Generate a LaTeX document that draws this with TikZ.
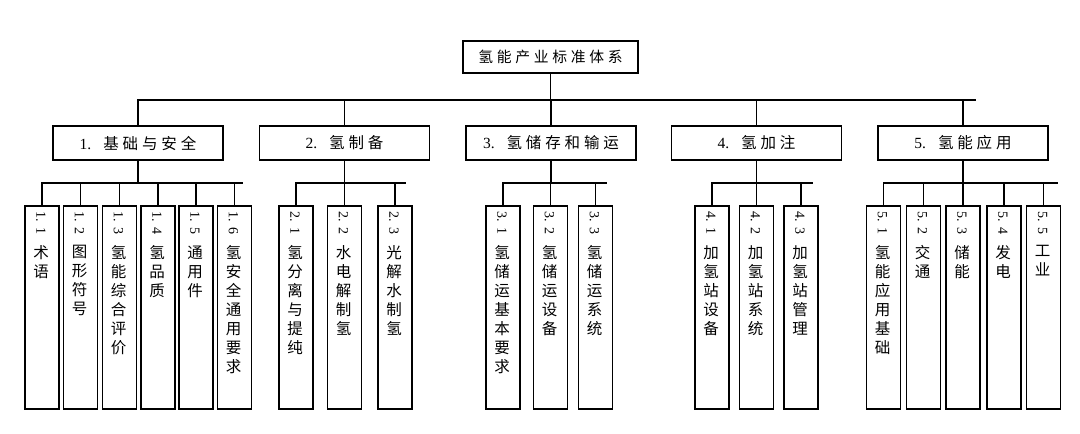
\documentclass[tikz,border=0pt]{standalone}
\usepackage{fontspec}
\setmainfont{Liberation Serif}
\newfontfamily\cjk{Noto Sans CJK SC}
\newfontfamily\cjks[LetterSpace=25]{Noto Sans CJK SC}
\newcommand\leaf[4]{%
  \node[leafbox] (#1) at (#2,307.5) {};
  \node[numtxt] (#1n) at ([xshift=-1pt,yshift=-6pt]#1.north) {#3};
  \node[chartxt] (#1c) at ([xshift=-1pt,yshift=-40pt]#1.north) {#4};
}
\begin{document}
\begin{tikzpicture}[x=1pt,y=-1pt,
  rootbox/.style={draw, line width=1.4pt, minimum width=175pt, minimum height=32pt, inner sep=0pt, font=\cjks\fontsize{14.8}{15}\selectfont},
  catbox/.style={draw, line width=1.4pt, minimum width=170pt, minimum height=34pt, inner sep=0pt, font=\cjks\fontsize{15.5}{15}\selectfont},
  leafbox/.style={draw, line width=1.4pt, minimum width=34pt, minimum height=203pt, inner sep=0pt},
  conn/.style={line width=1.2pt},
  numtxt/.style={rotate=-90, anchor=west, inner sep=0pt, font=\fontsize{14}{14}\selectfont},
  chartxt/.style={anchor=north, align=center, inner sep=0pt, font=\cjk\fontsize{15.5}{19}\selectfont}
]
\useasboundingbox (0,0) rectangle (1080,434);
\fill[white] (0,0) rectangle (1080,434);

\node[rootbox] (root) at (550.5,57) {氢能产业标准体系};

\node[catbox] (c1) at (138,143) {\rmfamily 1.\hspace{12pt}\cjks 基础与安全};
\node[catbox] (c2) at (344.5,143) {\rmfamily 2.\hspace{12pt}\cjks 氢制备};
\node[catbox] (c3) at (551,143) {\rmfamily 3.\hspace{12pt}\cjks 氢储存和输运};
\node[catbox] (c4) at (756.5,143) {\rmfamily 4.\hspace{12pt}\cjks 氢加注};
\node[catbox] (c5) at (963,143) {\rmfamily 5.\hspace{12pt}\cjks 氢能应用};

\coordinate (bus0) at (976,100);
\draw[conn] (c1.north) |- (bus0);
\draw[conn] (root.south) -- (root.south |- bus0);
\draw[conn] (c2.north) -- (c2.north |- bus0);
\draw[conn] (c3.north) -- (c3.north |- bus0);
\draw[conn] (c4.north) -- (c4.north |- bus0);
\draw[conn] (c5.north) -- (c5.north |- bus0);

% group 1
\leaf{b11}{42}{1.\hspace{6pt}1}{术\\语}
\leaf{b12}{80.5}{1.\hspace{6pt}2}{图\\形\\符\\号}
\leaf{b13}{119.5}{1.\hspace{6pt}3}{氢\\能\\综\\合\\评\\价}
\leaf{b14}{158}{1.\hspace{6pt}4}{氢\\品\\质}
\leaf{b15}{196}{1.\hspace{6pt}5}{通\\用\\件}
\leaf{b16}{234.5}{1.\hspace{6pt}6}{氢\\安\\全\\通\\用\\要\\求}
% group 2
\leaf{b21}{296}{2.\hspace{6pt}1}{氢\\分\\离\\与\\提\\纯}
\leaf{b22}{344.5}{2.\hspace{6pt}2}{水\\电\\解\\制\\氢}
\leaf{b23}{395}{2.\hspace{6pt}3}{光\\解\\水\\制\\氢}
% group 3
\leaf{b31}{503}{3.\hspace{6pt}1}{氢\\储\\运\\基\\本\\要\\求}
\leaf{b32}{550.5}{3.\hspace{6pt}2}{氢\\储\\运\\设\\备}
\leaf{b33}{595.5}{3.\hspace{6pt}3}{氢\\储\\运\\系\\统}
% group 4
\leaf{b41}{712}{4.\hspace{6pt}1}{加\\氢\\站\\设\\备}
\leaf{b42}{756.5}{4.\hspace{6pt}2}{加\\氢\\站\\系\\统}
\leaf{b43}{801}{4.\hspace{6pt}3}{加\\氢\\站\\管\\理}
% group 5
\leaf{b51}{883.5}{5.\hspace{6pt}1}{氢\\能\\应\\用\\基\\础}
\leaf{b52}{923.5}{5.\hspace{6pt}2}{交\\通}
\leaf{b53}{963}{5.\hspace{6pt}3}{储\\能}
\leaf{b54}{1004}{5.\hspace{6pt}4}{发\\电}
\leaf{b55}{1043.5}{5.\hspace{6pt}5}{工\\业}

% group buses
\coordinate (g1e) at (243,183);
\coordinate (g2e) at (406,183);
\coordinate (g3e) at (607,183);
\coordinate (g4e) at (813,183);
\coordinate (g5e) at (1058,183);

\draw[conn] (b11.north) |- (g1e);
\draw[conn] (c1.south) -- (c1.south |- g1e);
\foreach \b in {b12,b13,b14,b15,b16}{\draw[conn] (\b.north) -- (\b.north |- g1e);}

\draw[conn] (b21.north) |- (g2e);
\draw[conn] (c2.south) -- (c2.south |- g2e);
\foreach \b in {b22,b23}{\draw[conn] (\b.north) -- (\b.north |- g2e);}

\draw[conn] (b31.north) |- (g3e);
\draw[conn] (c3.south) -- (c3.south |- g3e);
\foreach \b in {b32,b33}{\draw[conn] (\b.north) -- (\b.north |- g3e);}

\draw[conn] (b41.north) |- (g4e);
\draw[conn] (c4.south) -- (c4.south |- g4e);
\foreach \b in {b42,b43}{\draw[conn] (\b.north) -- (\b.north |- g4e);}

\draw[conn] (b51.north) |- (g5e);
\draw[conn] (c5.south) -- (c5.south |- g5e);
\foreach \b in {b52,b53,b54,b55}{\draw[conn] (\b.north) -- (\b.north |- g5e);}
\end{tikzpicture}
\end{document}
